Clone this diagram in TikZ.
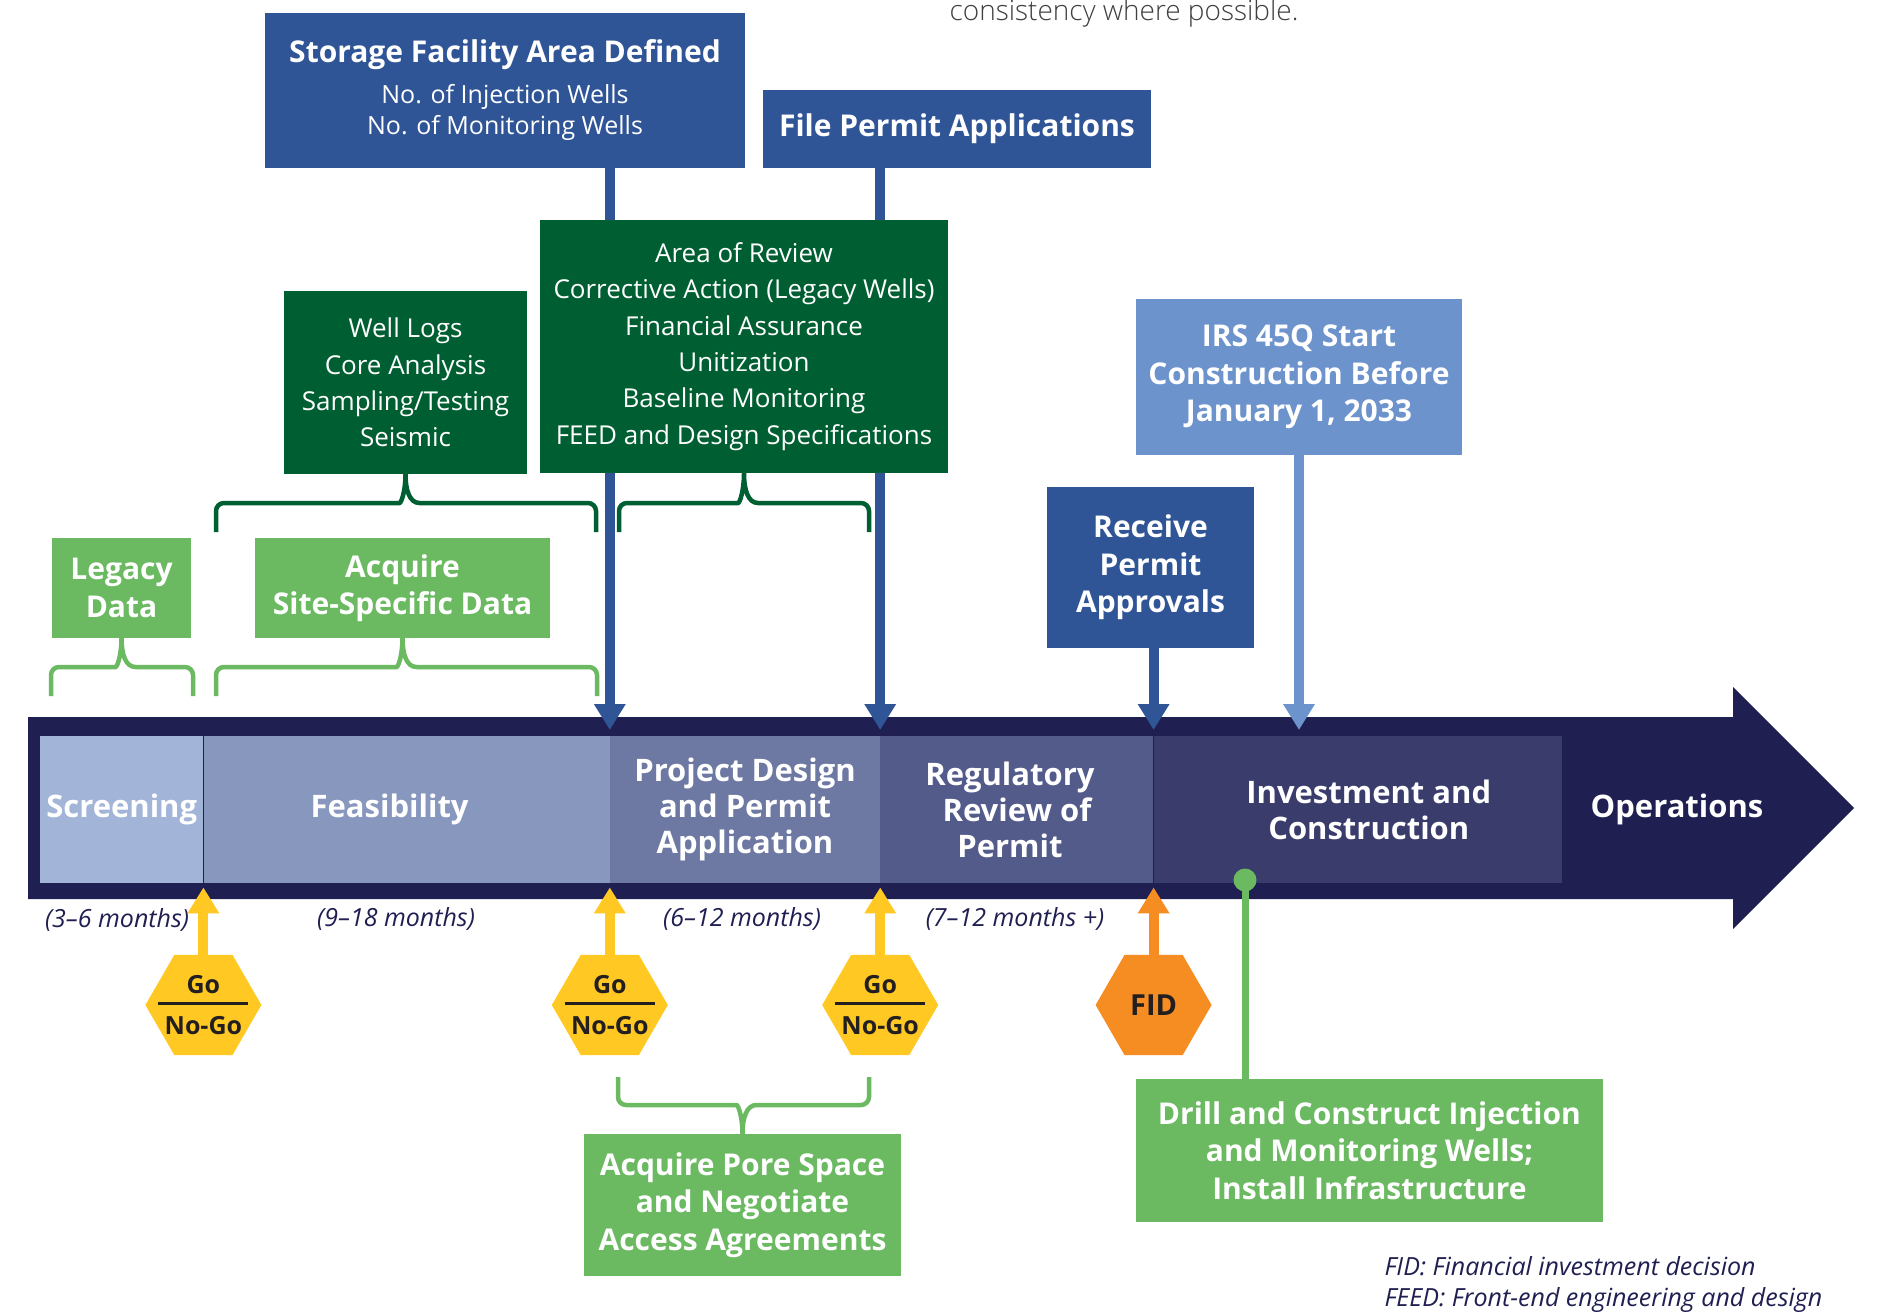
\documentclass[tikz,border=0pt]{standalone}
\usepackage{fontspec}
\IfFontExistsTF{Open Sans SemiBold}
  {\setmainfont{Open Sans}[BoldFont={Open Sans SemiBold}, BoldItalicFont={Open Sans Bold Italic}]}
  {\setmainfont{Open Sans}}
\IfFontExistsTF{Open Sans Light}
  {\newfontfamily\lightfont{Open Sans Light}}
  {\newfontfamily\lightfont{Open Sans}}
\usetikzlibrary{arrows.meta,calc,positioning,shapes.geometric}
\definecolor{tlnavy}{HTML}{201F52}
\definecolor{phscreen}{HTML}{A2B5D8}
\definecolor{phfeas}{HTML}{8797BE}
\definecolor{phdesign}{HTML}{6D79A3}
\definecolor{phreview}{HTML}{535B8B}
\definecolor{phinvest}{HTML}{3A3C6C}
\definecolor{ccsblue}{HTML}{2F5597}
\definecolor{ccslight}{HTML}{6D93CC}
\definecolor{ccsdkgreen}{HTML}{005F32}
\definecolor{ccsltgreen}{HTML}{6BBA62}
\definecolor{ccsyellow}{HTML}{FFC822}
\definecolor{ccsorange}{HTML}{F58D23}
\definecolor{gateink}{HTML}{231F20}

\newcommand{\spanbrace}[6][]{%
  \path (#6 |- 0,#5) coordinate (bmid);
  \draw[brace,#1] (#2,#4) [rounded corners=8pt] -- (#2,#5) -- ($(bmid)+(-14,0)$) [sharp corners]
    .. controls ($(bmid)+(-4,0)$) and ($(bmid)!0.45!(#6)$) .. (#6)
    .. controls ($(bmid)!0.45!(#6)$) and ($(bmid)+(4,0)$) .. ($(bmid)+(14,0)$)
    [rounded corners=8pt] -- (#3,#5) -- (#3,#4);
}

\begin{document}
\begin{tikzpicture}[x=1pt, y=1pt, yscale=-1,
    font=\fontsize{26}{36.4}\selectfont,
    phase/.style={minimum height=147pt, inner sep=0pt, text=white, align=center,
      font=\bfseries\fontsize{31}{36}\selectfont},
    bluebox/.style={fill=ccsblue, text=white, align=center, inner sep=0pt,
      font=\bfseries\fontsize{30}{37.5}\selectfont},
    listbox/.style={fill=ccsdkgreen, text=white, align=center, inner sep=0pt},
    taskbox/.style={fill=ccsltgreen, text=white, align=center, inner sep=0pt,
      font=\bfseries\fontsize{30}{37.5}\selectfont},
    gate/.style={regular polygon, regular polygon sides=6, minimum size=116pt,
      inner sep=0pt, fill=ccsyellow},
    gatetext/.style={text=gateink, align=center, inner sep=0pt,
      font=\bfseries\fontsize{25}{41}\selectfont},
    months/.style={text=tlnavy, font=\itshape\fontsize{25}{30}\selectfont},
    downarrow/.style={line width=10pt, draw=ccsblue, -{Triangle[width=30pt,length=26pt]}},
    uparrow/.style={line width=10pt, draw=ccsyellow, -{Triangle[width=30pt,length=26pt]}},
    brace/.style={line width=4.5pt}
  ]
  \useasboundingbox (0,0) rectangle (1877,1313);
  \fill[white] (0,0) rectangle (1877,1313);

  \node[anchor=base west, text=black!75, font=\lightfont\fontsize{28}{34}\selectfont] (topnote) at (946,21) {consistency where possible.};

  \fill[tlnavy] (28,717) -- (1733,717) -- (1733,687) -- (1854,808) -- (1733,929) -- (1733,899) -- (28,899) -- cycle;
  \node[phase, fill=phscreen, minimum width=163pt, anchor=north west] (screening) at (40,736) {Screening};
  \node[phase, fill=phfeas, minimum width=406pt, right=0pt of screening] (feasibility) {Feasibility\hspace*{34pt}};
  \node[phase, fill=phdesign, minimum width=270pt, right=0pt of feasibility] (design) {Project Design\\and Permit\\Application};
  \node[phase, fill=phreview, minimum width=273pt, right=0pt of design] (review) {Regulatory\hspace*{14pt}\\Review of\hspace*{14pt}\\Permit\hspace*{14pt}};
  \node[phase, fill=phinvest, minimum width=408pt, right=0pt of review] (invest) {\hspace*{22pt}Investment and\\\hspace*{22pt}Construction};
  \node[phase, minimum height=0pt] (operations) at (1677,809) {Operations};

  \node[bluebox, minimum width=480pt, minimum height=155pt, font=\fontsize{25}{31}\selectfont] (storage) at (505,90.5)
    {{\bfseries\fontsize{30}{37}\selectfont Storage Facility Area Defined}\\[10pt]No. of Injection Wells\\No. of Monitoring Wells};
  \node[bluebox, minimum width=388pt, minimum height=78pt] (filepermit) at (957,129) {File Permit Applications};

  \draw[downarrow] (storage.south -| design.west) -- ($(design.north west)+(0,-6)$);
  \draw[downarrow] (filepermit.south -| review.west) -- ($(review.north west)+(0,-6)$);

  \node[listbox, minimum width=408pt, minimum height=253pt] (aorlist) at (744,346.5)
    {Area of Review\\Corrective Action (Legacy Wells)\\Financial Assurance\\Unitization\\Baseline Monitoring\\FEED and Design Specifications};
  \node[listbox, minimum width=243pt, minimum height=183pt] (welllogs) at (405.5,382.5)
    {Well Logs\\Core Analysis\\Sampling/Testing\\Seismic};
  \spanbrace[ccsdkgreen]{216}{596}{532}{503}{welllogs.south}
  \spanbrace[ccsdkgreen]{619}{869}{532}{503}{aorlist.south}

  \node[taskbox, minimum width=139pt, minimum height=100pt] (legacy) at (121.5,588) {Legacy\\Data};
  \node[taskbox, minimum width=295pt, minimum height=100pt] (acquire) at (402.5,588) {Acquire\\Site-Specific Data};
  \spanbrace[ccsltgreen]{51}{193}{696}{667}{legacy.south}
  \spanbrace[ccsltgreen]{216}{597}{696}{667}{acquire.south}

  \node[bluebox, minimum width=207pt, minimum height=161pt] (receive) at (1150.5,567.5) {Receive\\Permit\\Approvals};
  \node[bluebox, fill=ccslight, minimum width=326pt, minimum height=156pt] (irs) at (1299,377)
    {IRS 45Q Start\\Construction Before\\January 1, 2033};
  \draw[downarrow] (receive.south -| invest.west) -- ($(invest.north west)+(0,-6)$);
  \draw[downarrow, draw=ccslight] (irs.south) -- ($(irs.south |- invest.north)+(0,-6)$);

  \foreach \ph [count=\i] in {screening,feasibility,design} {
    \node[gate] (gate\i) at (\ph.south east |- 0,1005) {};
    \node[gatetext] (gatelbl\i) at (gate\i) {Go\\No-Go};
    \draw[line width=3pt, gateink] ($(gate\i)+(-45,-2)$) -- ($(gate\i)+(45,-2)$);
    \draw[uparrow] (gate\i.north) -- ($(\ph.south east)+(0,4)$);
  }
  \node[gate, fill=ccsorange] (fid) at (review.south east |- 0,1005) {};
  \node[gatetext, font=\bfseries\fontsize{29}{35}\selectfont] (fidlbl) at (fid) {FID};
  \draw[uparrow, draw=ccsorange] (fid.north) -- ($(review.south east)+(0,4)$);

  \node[months] (mscreen) at (117,920) {(3–6 months)};
  \node[months] (mfeas) at (396,919) {(9–18 months)};
  \node[months] (mdesign) at (742,919) {(6–12 months)};
  \node[months] (mreview) at (1015,919) {(7–12 months +)};

  \node[taskbox, minimum width=317pt, minimum height=142pt] (pore) at (742.5,1205)
    {Acquire Pore Space\\and Negotiate\\Access Agreements};
  \spanbrace[ccsltgreen]{618}{869}{1077}{1105}{pore.north}

  \node[taskbox, minimum width=467pt, minimum height=143pt] (drill) at (1369.5,1150.5)
    {Drill and Construct Injection\\and Monitoring Wells;\\Install Infrastructure};
  \coordinate (drilldot) at (1245,880);
  \draw[ccsltgreen, line width=7pt] (drill.north -| drilldot) -- (drilldot);
  \fill[ccsltgreen] (drilldot) circle (11.5);

  \node[months, anchor=west, align=left, font=\itshape\fontsize{25}{31}\selectfont] (abbrev) at (1381,1284)
    {FID: Financial investment decision\\FEED: Front-end engineering and design};
\end{tikzpicture}
\end{document}
